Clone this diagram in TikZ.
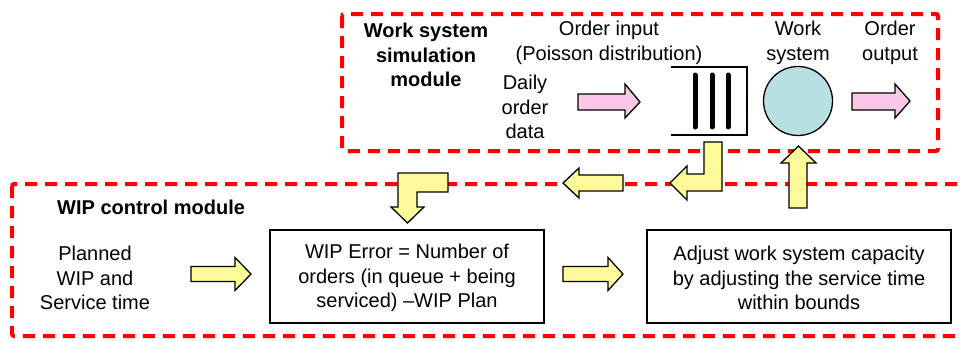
\documentclass[tikz,border=0pt]{standalone}
\usepackage{fontspec}
\setmainfont{Liberation Sans}
\begin{document}
\begin{tikzpicture}[x=1pt,y=-1pt,
  module/.style={draw=red, line width=4pt, dash pattern=on 12pt off 8pt, rounded corners=2pt},
  txt/.style={font=\fontsize{20}{24.5}\selectfont, align=center, inner sep=0pt},
  btxt/.style={txt, font=\fontsize{20}{24.5}\selectfont\bfseries},
  procbox/.style={draw=black, line width=1.3pt, fill=white},
  yarrow/.style={draw=black, line width=1.3pt, fill=yellow!40, line join=miter},
  parrow/.style={draw=black, line width=1.3pt, fill=magenta!22, line join=miter},
  bar/.style={line width=5pt, line cap=round}
]
\useasboundingbox (0,0) rectangle (960,341);
\clip (0,0) rectangle (960,341);
\fill[white] (0,0) rectangle (960,341);

% modules
\draw[module] (342,14) rectangle (938,151);
\draw[module] (12,184) rectangle (975,336);

% top module texts
\node[btxt] (simlabel) at (426,55) {Work system\\simulation\\module};
\node[txt] (orderin) at (609,43) {Order input\\(Poisson distribution)};
\node[txt] (daily) at (525,107) {Daily\\order\\data};
\node[txt] (wslabel) at (798,43) {Work\\system};
\node[txt] (outlabel) at (890,43) {Order\\output};

% queue
\coordinate (qtl) at (671,67);
\coordinate (qtr) at (747,67);
\coordinate (qbr) at (747,135);
\coordinate (qbl) at (671,135);
\draw[line width=1.3pt] (qtl) -- (qtr) -- (qbr) -- (qbl);
\draw[bar] (695,75) -- (695,127);
\draw[bar] (712,75) -- (712,127);
\draw[bar] (728,75) -- (728,127);

% work system circle
\node[circle, draw=black, line width=1.3pt, fill={rgb,255:red,184;green,223;blue,225}, minimum size=69pt, inner sep=0pt] (ws) at (798,101) {};

% pink arrows
\draw[parrow] (578,94) -- (625,94) -- (625,84) -- (640,102) -- (625,118) -- (625,110) -- (578,110) -- cycle;
\draw[parrow] (852,93) -- (895,93) -- (895,84) -- (910,101) -- (895,118) -- (895,110) -- (852,110) -- cycle;

% bottom module
\node[btxt, anchor=west] (wiplabel) at (57,207) {WIP control module};
\node[txt] (planned) at (95,278) {Planned\\WIP and\\Service time};
\node[procbox, minimum width=274pt, minimum height=93pt] (errbox) at (407,276.5) {};
\node[txt] (errtxt) at (407,278) {WIP Error = Number of\\orders (in queue + being\\serviced) \textendash WIP Plan};
\node[procbox, minimum width=304pt, minimum height=93pt] (adjbox) at (799,276.5) {};
\node[txt] (adjtxt) at (799,278) {Adjust work system capacity\\by adjusting the service time\\within bounds};

% yellow arrows
\draw[yarrow] (191,266.5) -- (235,266.5) -- (235,257.5) -- (251,274) -- (235,290.5) -- (235,281.5) -- (191,281.5) -- cycle;
\draw[yarrow] (563,266.5) -- (608,266.5) -- (608,257.5) -- (623,274) -- (608,290.5) -- (608,281.5) -- (563,281.5) -- cycle;
% left arrow
\draw[yarrow] (623,175) -- (579,175) -- (579,168) -- (563,183) -- (579,198) -- (579,191) -- (623,191) -- cycle;
% L arrow right (down then left)
\draw[yarrow] (722,142) -- (722,191) -- (687,191) -- (687,200) -- (670,183) -- (687,166) -- (687,174) -- (704,174) -- (704,142) -- cycle;
% L arrow left (left then down)
\draw[yarrow] (448,173) -- (448,192) -- (417,192) -- (417,207) -- (424,207) -- (407.5,223) -- (391,207) -- (398,207) -- (398,173) -- cycle;
% up arrow
\draw[yarrow] (789,208) -- (789,163) -- (781,163) -- (798.5,146) -- (816,163) -- (807,163) -- (807,208) -- cycle;
\end{tikzpicture}
\end{document}
